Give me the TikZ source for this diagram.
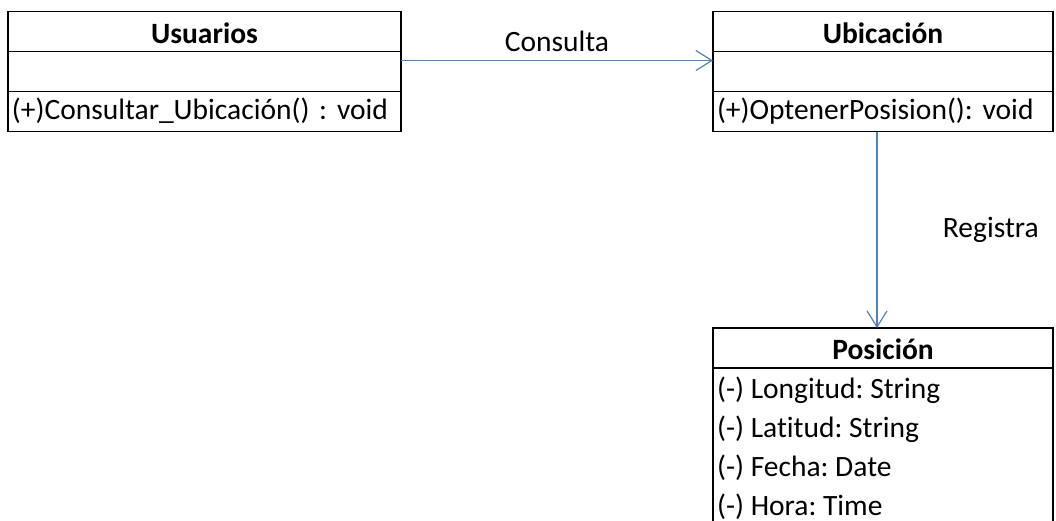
\documentclass[tikz,border=0pt]{standalone}
\usepackage{fontspec}
\setmainfont[Ligatures=NoCommon]{Carlito}
\usetikzlibrary{positioning, arrows.meta, calc}
\definecolor{linkblue}{RGB}{79,129,189}
\frenchspacing

\begin{document}
\begin{tikzpicture}[x=1pt, y=-1pt, font=\fontsize{29.5}{34}\selectfont]
				\tikzset{box/.style={draw, line width=1.4pt, outer sep=0pt, inner xsep=4pt, minimum height=40pt, text height=20pt, text depth=4pt}}
				\tikzset{hdr/.style={box, minimum width=393pt, text height=24pt, text depth=1pt, font=\fontsize{29.5}{34}\selectfont\bfseries}}
				\tikzset{op/.style={box, text width=385pt, align=left}}
				\tikzset{assoc/.style={linkblue, line width=1.2pt, -{Straight Barb[length=16pt, width=20pt, line width=1.2pt]}}}
				\tikzset{attr/.style={anchor=base west, inner sep=0pt}}

				\useasboundingbox (0,0) rectangle (1056,520);

				% Usuarios
				\node (usuHdr) [hdr] at (204.5,31.5) {Usuarios};
				\node (usuAttr) [op, below=0pt of usuHdr] {};
				\node (usuOp) [op, below=0pt of usuAttr] {(+)Consultar\_Ubicación() : void};

				% Ubicacion
				\node (ubiHdr) [hdr, minimum width=340pt] at (883,31.5) {Ubicación};
				\node (ubiAttr) [op, text width=332pt, below=0pt of ubiHdr] {};
				\node (ubiOp) [op, text width=332pt, below=0pt of ubiAttr] {(+)OptenerPosision(): void};

				% Posicion
				\node (posHdr) [hdr, minimum width=340pt] at (883,348) {Posición};
				\node (posAttr) [box, minimum width=340pt, minimum height=180pt, below=0pt of posHdr] {};
				\foreach \a [count=\i] in {Longitud: String, Latitud: String, Fecha: Date, Hora: Time}
				{ \node (posA\i) [attr] at ($(posAttr.north west)+(4,39*\i-9)$) {(-) \a}; }

				\draw[assoc] ([yshift=11pt]usuAttr.east) -- node[above=5pt, text=black] (cons) {Consulta} ([yshift=11pt]ubiAttr.west);
				\draw[assoc] ([xshift=-6pt]ubiOp.south) -- node[right=62pt, text=black] (reg) {Registra} ([xshift=-6pt]posHdr.north);
			\end{tikzpicture}
\end{document}
